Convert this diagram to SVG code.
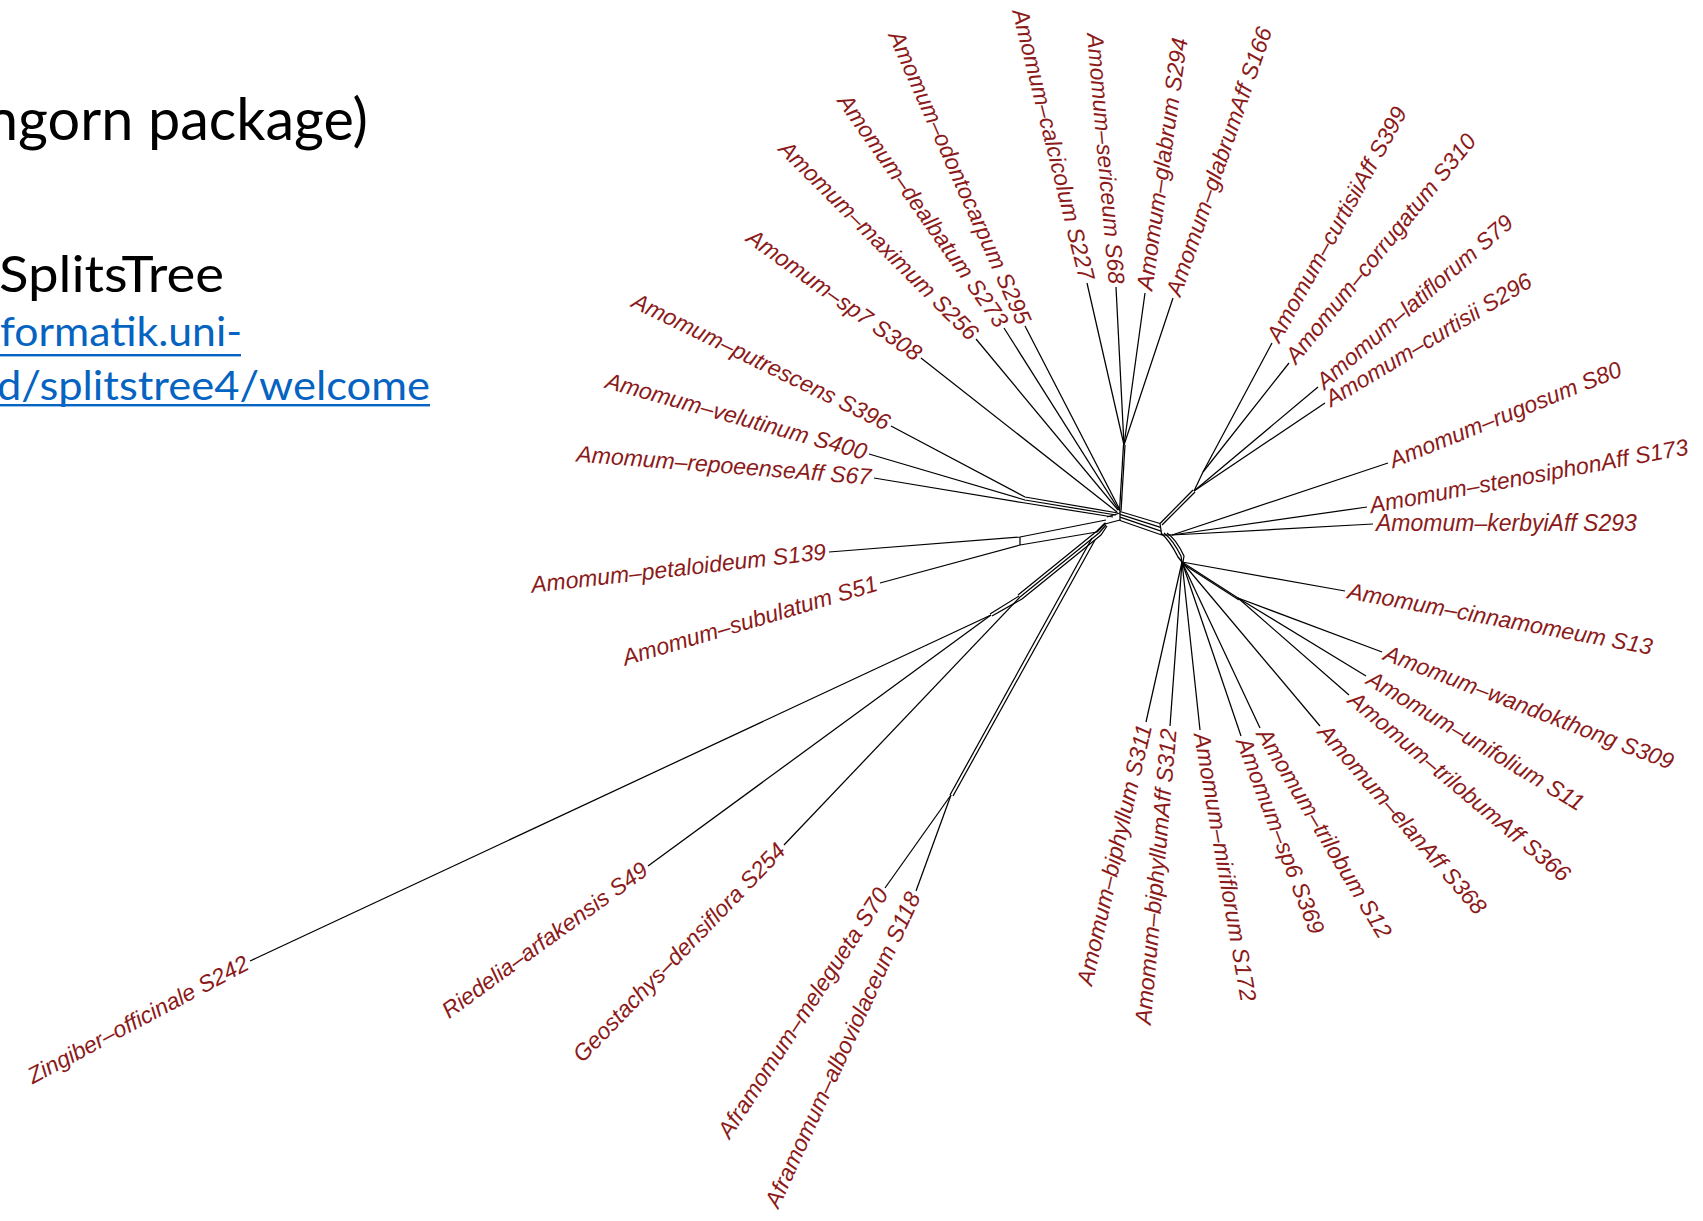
<svg xmlns="http://www.w3.org/2000/svg" width="1703" height="1221" viewBox="0 0 1703 1221">
  <style>
    .hd { font-family: Lato, "Open Sans", "Liberation Sans", sans-serif; fill: #000; }
    .lnk { font-family: Lato, "Open Sans", "Liberation Sans", sans-serif; fill: #0563C1; }
    .lab { font-family: "Liberation Sans", Arial, sans-serif; font-style: italic; font-size: 23px; fill: #8B1A1A; }
    .e { text-anchor: end; }
    #edges path { fill: none; stroke: #000; stroke-width: 1.25; stroke-linejoin: round; }
  </style>
  <rect width="1703" height="1221" fill="#fff"/>

  <!-- slide text -->
  <g id="heading">
    <text class="hd" x="-14" y="140" font-size="58" textLength="382" lengthAdjust="spacingAndGlyphs">ngorn package)</text>
    <text class="hd" x="-1" y="292" font-size="50" textLength="225" lengthAdjust="spacingAndGlyphs">SplitsTree</text>
    <text class="lnk" x="0" y="346" font-size="41" textLength="242" lengthAdjust="spacingAndGlyphs">formatik.uni-</text>
    <rect x="0" y="354" width="241" height="2.4" fill="#0563C1"/>
    <text class="lnk" x="-3" y="399.5" font-size="41" textLength="433" lengthAdjust="spacingAndGlyphs">d/splitstree4/welcome</text>
    <rect x="0" y="404" width="430" height="2.4" fill="#0563C1"/>
  </g>

  <!-- split network edges -->
  <g id="edges">
    <!-- central box -->
    <path d="M1120,511 L1120,521"/>
    <path d="M1120,511.5 L1160,523.5"/>
    <path d="M1120,514.3 L1160.6,527.3"/>
    <path d="M1120,517.2 L1161.1,531.1"/>
    <path d="M1120,520.5 L1161.7,535"/>
    <path d="M1160,523.5 L1161.7,535"/>
    <!-- upper stem and fan -->
    <path d="M1119.5,511 L1123.5,445"/>
    <path d="M1121,511 L1125,445"/>
    <path d="M1124,445 L1087,283"/>
    <path d="M1124,445 L1116,287"/>
    <path d="M1124,445 L1145,293"/>
    <path d="M1124,445 L1173,298"/>
    <!-- upper left leaves -->
    <path d="M976,339 L1118,510"/>
    <path d="M1004,328 L1119,510"/>
    <path d="M1025,326 L1120,510"/>
    <path d="M921,358 L1117,512"/>
    <!-- left bundle -->
    <path d="M891,426 L1025,497 L1118,513"/>
    <path d="M869,454 L1025,500 L1116,515"/>
    <path d="M874,478 L1025,503 L1113,517"/>
    <path d="M1120,513 L1107,517"/>
    <path d="M1120,520 L1105,524"/>
    <!-- petaloideum / subulatum -->
    <path d="M829,552 L1020,537 L1106,520"/>
    <path d="M880,583 L1020,545 L1097,532 L1106,523"/>
    <path d="M1020,537 L1020,545"/>
    <!-- outgroup bundle -->
    <path d="M1105,523 L1097,531 L1018,595"/>
    <path d="M1106,525 L1099,533 L1020,597"/>
    <path d="M1107,526 L1101,535 L1022,599"/>
    <path d="M1020,597 L784,845"/>
    <path d="M1019,596 L990,614"/>
    <path d="M1022,599 L992,616"/>
    <path d="M991,615 L250,961"/>
    <path d="M991,615 L648,866"/>
    <!-- Aframomum -->
    <path d="M1092,538 L950,795"/>
    <path d="M1095,540 L953,796"/>
    <path d="M951,795 L885,888"/>
    <path d="M951,795 L916,891"/>
    <!-- curtisii group -->
    <path d="M1160,523.5 L1193,490"/>
    <path d="M1162,525 L1195,492"/>
    <path d="M1194,491 L1203,472"/>
    <path d="M1203,472 L1272,343"/>
    <path d="M1203,472 L1289,363"/>
    <path d="M1194,491 L1318,387"/>
    <path d="M1194,491 L1325,403"/>
    <!-- kerbyi group -->
    <path d="M1161.7,535 L1172,535"/>
    <path d="M1172,535 L1388,463"/>
    <path d="M1172,535 L1367,507"/>
    <path d="M1172,535 L1373,524"/>
    <!-- arc to lower node -->
    <path d="M1161,533 Q1170,541 1178,557 L1182,562"/>
    <path d="M1164,533 Q1173,540 1181,556 L1182,562"/>
    <path d="M1167,533 Q1176,539 1184,556 L1183,562"/>
    <!-- lower right fan -->
    <path d="M1182,562 L1345,591"/>
    <path d="M1182,562 L1238,598"/>
    <path d="M1183,564 L1239,600"/>
    <path d="M1238,598 L1382,652"/>
    <path d="M1238,598 L1366,676"/>
    <path d="M1238,598 L1349,695"/>
    <path d="M1182,562 L1320,726"/>
    <path d="M1182,562 L1260,728"/>
    <path d="M1182,562 L1241,736"/>
    <path d="M1182,562 L1200,730"/>
    <path d="M1182,562 L1170,726"/>
    <path d="M1182,562 L1146,722"/>
  </g>

  <!-- tip labels -->
  <g id="tip-glabrum-S294"><text class="lab" transform="translate(1145,293) rotate(-82)" x="3" dy="0.3em">Amomum–glabrum S294</text></g>
  <g id="tip-glabrumAff-S166"><text class="lab" transform="translate(1173,298) rotate(-71)" x="3" dy="0.3em">Amomum–glabrumAff S166</text></g>
  <g id="tip-curtisiiAff-S399"><text class="lab" transform="translate(1272,343) rotate(-61)" x="3" dy="0.3em">Amomum–curtisiiAff S399</text></g>
  <g id="tip-corrugatum-S310"><text class="lab" transform="translate(1289,363) rotate(-51)" x="3" dy="0.3em">Amomum–corrugatum S310</text></g>
  <g id="tip-latiflorum-S79"><text class="lab" transform="translate(1318,387) rotate(-41)" x="3" dy="0.3em">Amomum–latiflorum S79</text></g>
  <g id="tip-curtisii-S296"><text class="lab" transform="translate(1325,403) rotate(-31)" x="3" dy="0.3em">Amomum–curtisii S296</text></g>
  <g id="tip-rugosum-S80"><text class="lab" transform="translate(1388,463) rotate(-22)" x="3" dy="0.3em">Amomum–rugosum S80</text></g>
  <g id="tip-stenosiphonAff-S173"><text class="lab" transform="translate(1367,507) rotate(-10.5)" x="3" dy="0.3em">Amomum–stenosiphonAff S173</text></g>
  <g id="tip-kerbyiAff-S293"><text class="lab" transform="translate(1373,524) rotate(0)" x="3" dy="0.3em">Amomum–kerbyiAff S293</text></g>
  <g id="tip-cinnamomeum-S13"><text class="lab" transform="translate(1345,591) rotate(10.5)" x="3" dy="0.3em">Amomum–cinnamomeum S13</text></g>
  <g id="tip-wandokthong-S309"><text class="lab" transform="translate(1382,652) rotate(21)" x="3" dy="0.3em">Amomum–wandokthong S309</text></g>
  <g id="tip-unifolium-S11"><text class="lab" transform="translate(1366,676) rotate(31)" x="3" dy="0.3em">Amomum–unifolium S11</text></g>
  <g id="tip-trilobumAff-S366"><text class="lab" transform="translate(1349,695) rotate(40)" x="3" dy="0.3em">Amomum–trilobumAff S366</text></g>
  <g id="tip-elanAff-S368"><text class="lab" transform="translate(1320,726) rotate(49)" x="3" dy="0.3em">Amomum–elanAff S368</text></g>
  <g id="tip-trilobum-S12"><text class="lab" transform="translate(1260,728) rotate(59)" x="3" dy="0.3em">Amomum–trilobum S12</text></g>
  <g id="tip-sp6-S369"><text class="lab" transform="translate(1241,736) rotate(69)" x="3" dy="0.3em">Amomum–sp6 S369</text></g>
  <g id="tip-miriflorum-S172"><text class="lab" transform="translate(1200,730) rotate(80)" x="3" dy="0.3em">Amomum–miriflorum S172</text></g>

  <g id="tip-biphyllumAff-S312"><text class="lab e" transform="translate(1170,726) rotate(-85)" x="-3" dy="0.3em">Amomum–biphyllumAff S312</text></g>
  <g id="tip-biphyllum-S311"><text class="lab e" transform="translate(1146,722) rotate(-77)" x="-3" dy="0.3em">Amomum–biphyllum S311</text></g>
  <g id="tip-alboviolaceum-S118"><text class="lab e" transform="translate(916,891) rotate(-65.5)" x="-3" dy="0.3em">Aframomum–alboviolaceum S118</text></g>
  <g id="tip-melegueta-S70"><text class="lab e" transform="translate(885,888) rotate(-57)" x="-3" dy="0.3em">Aframomum–melegueta S70</text></g>
  <g id="tip-densiflora-S254"><text class="lab e" transform="translate(784,845) rotate(-46)" x="-3" dy="0.3em">Geostachys–densiflora S254</text></g>
  <g id="tip-arfakensis-S49"><text class="lab e" transform="translate(648,866) rotate(-36)" x="-3" dy="0.3em">Riedelia–arfakensis S49</text></g>
  <g id="tip-officinale-S242"><text class="lab e" transform="translate(250,961) rotate(-28)" x="-3" dy="0.3em">Zingiber–officinale S242</text></g>
  <g id="tip-subulatum-S51"><text class="lab e" transform="translate(880,583) rotate(-16.5)" x="-3" dy="0.3em">Amomum–subulatum S51</text></g>
  <g id="tip-petaloideum-S139"><text class="lab e" transform="translate(829,552) rotate(-6.5)" x="-3" dy="0.3em">Amomum–petaloideum S139</text></g>
  <g id="tip-repoeenseAff-S67"><text class="lab e" transform="translate(874,478) rotate(4.5)" x="-3" dy="0.3em">Amomum–repoeenseAff S67</text></g>
  <g id="tip-velutinum-S400"><text class="lab e" transform="translate(869,454) rotate(15.5)" x="-3" dy="0.3em">Amomum–velutinum S400</text></g>
  <g id="tip-putrescens-S396"><text class="lab e" transform="translate(891,426) rotate(26)" x="-3" dy="0.3em">Amomum–putrescens S396</text></g>
  <g id="tip-sp7-S308"><text class="lab e" transform="translate(921,358) rotate(35.5)" x="-3" dy="0.3em">Amomum–sp7 S308</text></g>
  <g id="tip-maximum-S256"><text class="lab e" transform="translate(976,339) rotate(45)" x="-3" dy="0.3em">Amomum–maximum S256</text></g>
  <g id="tip-dealbatum-S273"><text class="lab e" transform="translate(1004,328) rotate(55)" x="-3" dy="0.3em">Amomum–dealbatum S273</text></g>
  <g id="tip-odontocarpum-S295"><text class="lab e" transform="translate(1025,326) rotate(66)" x="-3" dy="0.3em">Amomum–odontocarpum S295</text></g>
  <g id="tip-calcicolum-S227"><text class="lab e" transform="translate(1087,283) rotate(76)" x="-3" dy="0.3em">Amomum–calcicolum S227</text></g>
  <g id="tip-sericeum-S68"><text class="lab e" transform="translate(1116,287) rotate(85)" x="-3" dy="0.3em">Amomum–sericeum S68</text></g>
</svg>
